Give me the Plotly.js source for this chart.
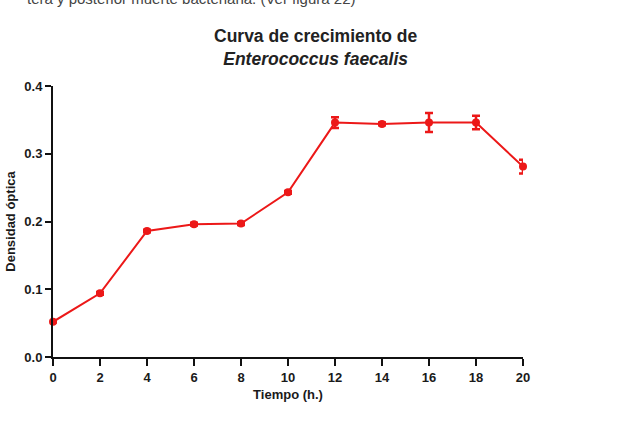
<!DOCTYPE html>
<html>
<head>
<meta charset="utf-8">
<script src="https://cdn.plot.ly/plotly-3.0.1.min.js"></script>
<style>
  html, body { margin: 0; padding: 0; background: #fff; }
  #chart { width: 621px; height: 421px; }
</style>
</head>
<body>
<div id="chart"></div>
<script>
// Growth curve of Enterococcus faecalis: optical density over time
const tiempo = [0, 2, 4, 6, 8, 10, 12, 14, 16, 18, 20];
const densidad = [0.052, 0.094, 0.186, 0.196, 0.197, 0.243, 0.346, 0.344, 0.346, 0.346, 0.281];
const errorDensidad = [0.001, 0.002, 0.002, 0.002, 0.002, 0.002, 0.008, 0.002, 0.014, 0.010, 0.010];
const xTicks = [0, 2, 4, 6, 8, 10, 12, 14, 16, 18, 20];
const yTicks = [0.0, 0.1, 0.2, 0.3, 0.4];
const yTickLabels = ['0.0', '0.1', '0.2', '0.3', '0.4'];

const rojo = 'rgb(236,24,24)';
const fuente = 'Liberation Sans, Arial, sans-serif';

const trace = {
  x: tiempo,
  y: densidad,
  type: 'scatter',
  mode: 'lines+markers',
  line: { color: rojo, width: 2 },
  marker: { color: rojo, size: 8, symbol: 'circle' },
  error_y: { type: 'data', array: errorDensidad, visible: true, color: rojo, thickness: 2.5, width: 4 },
  cliponaxis: false,
  hoverinfo: 'x+y'
};

const layout = {
  width: 621,
  height: 421,
  margin: { l: 53, r: 98, t: 86, b: 64 },
  paper_bgcolor: '#fff',
  plot_bgcolor: '#fff',
  showlegend: false,
  font: { family: fuente, color: '#111' },
  xaxis: {
    range: [0, 20],
    tickvals: xTicks,
    ticks: 'outside',
    ticklen: 7,
    tickwidth: 2,
    tickcolor: '#111',
    showline: true,
    linecolor: '#111',
    linewidth: 2,
    showgrid: false,
    zeroline: false,
    tickfont: { family: fuente, size: 13, color: '#1a1a1a', weight: 'bold' },
    title: { text: '<b>Tiempo (h.)</b>', font: { family: fuente, size: 13, color: '#1a1a1a' }, standoff: 6 }
  },
  yaxis: {
    range: [0, 0.4],
    tickvals: yTicks,
    ticktext: yTickLabels,
    ticks: 'outside',
    ticklen: 6,
    tickwidth: 2,
    tickcolor: '#111',
    showline: true,
    linecolor: '#111',
    linewidth: 2,
    showgrid: false,
    zeroline: false,
    tickfont: { family: fuente, size: 13, color: '#1a1a1a', weight: 'bold' },
    title: { text: '<b>Densidad óptica</b>', font: { family: fuente, size: 13, color: '#1a1a1a' }, standoff: 6 }
  },
  annotations: [
    {
      text: '<b>Curva de crecimiento de</b><br><b><i>Enterococcus faecalis</i></b>',
      xref: 'paper', yref: 'paper', x: 0.56, y: 1.0, yshift: 15,
      xanchor: 'center', yanchor: 'bottom',
      showarrow: false,
      font: { family: fuente, size: 17.5, color: '#222' }
    },
    {
      text: 'tera y posterior muerte bacteriana. (Ver figura 22)',
      xref: 'paper', yref: 'paper', x: -0.06, y: 1.0, xshift: 0, yshift: 88,
      xanchor: 'left', yanchor: 'middle',
      showarrow: false,
      font: { family: fuente, size: 15, color: '#444' }
    }
  ]
};

Plotly.newPlot('chart', [trace], layout, { displayModeBar: false, staticPlot: true });
</script>
</body>
</html>
